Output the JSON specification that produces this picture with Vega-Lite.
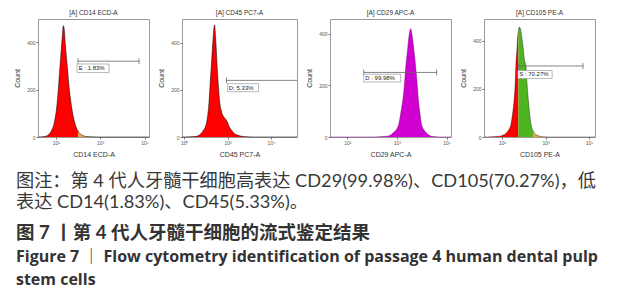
{
  "$schema": "https://vega.github.io/schema/vega-lite/v6.json",
  "padding": {"left": 13, "top": 9, "right": 2, "bottom": 2},
  "background": "white",
  "datasets": {
    "h1": [
      {"lx": 0.2, "c": 0, "s": "n"}, {"lx": 0.4, "c": 1, "s": "n"}, {"lx": 0.55, "c": 3, "s": "n"}, {"lx": 0.7, "c": 12, "s": "n"},
      {"lx": 0.8, "c": 25, "s": "n"}, {"lx": 0.92, "c": 55, "s": "n"}, {"lx": 1.0, "c": 95, "s": "n"}, {"lx": 1.07, "c": 150, "s": "n"},
      {"lx": 1.13, "c": 220, "s": "n"}, {"lx": 1.19, "c": 297, "s": "n"}, {"lx": 1.25, "c": 370, "s": "n"}, {"lx": 1.3, "c": 430, "s": "n"},
      {"lx": 1.34, "c": 470, "s": "n"}, {"lx": 1.38, "c": 455, "s": "n"}, {"lx": 1.44, "c": 380, "s": "n"}, {"lx": 1.52, "c": 297, "s": "n"},
      {"lx": 1.6, "c": 210, "s": "n"}, {"lx": 1.67, "c": 155, "s": "n"}, {"lx": 1.77, "c": 95, "s": "n"}, {"lx": 1.87, "c": 55, "s": "n"},
      {"lx": 1.96, "c": 32, "s": "n"}, {"lx": 2.0, "c": 26, "s": "n"},
      {"lx": 2.0, "c": 26, "s": "p"}, {"lx": 2.05, "c": 18, "s": "p"}, {"lx": 2.15, "c": 10, "s": "p"}, {"lx": 2.27, "c": 4, "s": "p"},
      {"lx": 2.4, "c": 2, "s": "p"}, {"lx": 2.6, "c": 1, "s": "p"}, {"lx": 3.0, "c": 0, "s": "p"}, {"lx": 5.2, "c": 0, "s": "p"}
    ],
    "h2": [
      {"lx": -0.1, "c": 0}, {"lx": 0.3, "c": 1}, {"lx": 0.58, "c": 3}, {"lx": 0.7, "c": 8}, {"lx": 0.81, "c": 18},
      {"lx": 0.9, "c": 30}, {"lx": 0.985, "c": 45}, {"lx": 1.07, "c": 80}, {"lx": 1.15, "c": 154}, {"lx": 1.2, "c": 230},
      {"lx": 1.25, "c": 297}, {"lx": 1.32, "c": 400}, {"lx": 1.4, "c": 475}, {"lx": 1.45, "c": 420}, {"lx": 1.52, "c": 297},
      {"lx": 1.58, "c": 210}, {"lx": 1.63, "c": 154}, {"lx": 1.7, "c": 115}, {"lx": 1.78, "c": 92}, {"lx": 1.85, "c": 82},
      {"lx": 1.92, "c": 75}, {"lx": 2.0, "c": 61}, {"lx": 2.07, "c": 45}, {"lx": 2.15, "c": 33}, {"lx": 2.32, "c": 14},
      {"lx": 2.45, "c": 8}, {"lx": 2.59, "c": 4}, {"lx": 2.89, "c": 1}, {"lx": 3.2, "c": 0}, {"lx": 5.2, "c": 0}
    ],
    "h3": [
      {"lx": 0.3, "c": 0}, {"lx": 2.0, "c": 0}, {"lx": 2.3, "c": 1}, {"lx": 2.59, "c": 3}, {"lx": 2.75, "c": 8},
      {"lx": 2.86, "c": 17}, {"lx": 3.0, "c": 32}, {"lx": 3.07, "c": 48}, {"lx": 3.15, "c": 90}, {"lx": 3.23, "c": 138},
      {"lx": 3.3, "c": 200}, {"lx": 3.35, "c": 266}, {"lx": 3.42, "c": 330}, {"lx": 3.5, "c": 400}, {"lx": 3.55, "c": 419},
      {"lx": 3.6, "c": 400}, {"lx": 3.68, "c": 340}, {"lx": 3.76, "c": 266}, {"lx": 3.82, "c": 200}, {"lx": 3.87, "c": 138},
      {"lx": 3.93, "c": 90}, {"lx": 3.99, "c": 48}, {"lx": 4.08, "c": 28}, {"lx": 4.17, "c": 17}, {"lx": 4.28, "c": 8},
      {"lx": 4.38, "c": 3}, {"lx": 4.55, "c": 1}, {"lx": 4.8, "c": 0}, {"lx": 5.18, "c": 0}
    ],
    "h4": [
      {"lx": 0.17, "c": 0, "s": "n"}, {"lx": 0.5, "c": 1, "s": "n"}, {"lx": 0.906, "c": 3, "s": "n"}, {"lx": 1.05, "c": 8, "s": "n"},
      {"lx": 1.21, "c": 18, "s": "n"}, {"lx": 1.32, "c": 32, "s": "n"}, {"lx": 1.41, "c": 53, "s": "n"}, {"lx": 1.48, "c": 95, "s": "n"},
      {"lx": 1.55, "c": 151, "s": "n"}, {"lx": 1.6, "c": 220, "s": "n"}, {"lx": 1.63, "c": 292, "s": "n"}, {"lx": 1.68, "c": 360, "s": "n"},
      {"lx": 1.72, "c": 420, "s": "n"}, {"lx": 1.75, "c": 440, "s": "n"},
      {"lx": 1.75, "c": 440, "s": "g"}, {"lx": 1.79, "c": 457, "s": "g"}, {"lx": 1.84, "c": 450, "s": "g"}, {"lx": 1.9, "c": 420, "s": "g"},
      {"lx": 1.97, "c": 370, "s": "g"}, {"lx": 2.03, "c": 320, "s": "g"}, {"lx": 2.1, "c": 292, "s": "g"}, {"lx": 2.15, "c": 220, "s": "g"},
      {"lx": 2.21, "c": 151, "s": "g"}, {"lx": 2.27, "c": 95, "s": "g"}, {"lx": 2.33, "c": 53, "s": "g"}, {"lx": 2.42, "c": 26, "s": "g"},
      {"lx": 2.42, "c": 26, "s": "o"}, {"lx": 2.5, "c": 15, "s": "o"}, {"lx": 2.6, "c": 8, "s": "o"}, {"lx": 2.74, "c": 3, "s": "o"},
      {"lx": 2.9, "c": 1, "s": "o"}, {"lx": 3.2, "c": 0, "s": "o"}, {"lx": 5.27, "c": 0, "s": "o"}
    ],
    "cap": [
      {"row": 1, "k": "n", "t": "图注：第 4 代人牙髓干细胞高表达 CD29(99.98%)、CD105(70.27%)，低"},
      {"row": 2, "k": "n", "t": "表达 CD14(1.83%)、CD45(5.33%)。"},
      {"row": 3.45, "k": "b", "t": "图 7 丨第 4 代人牙髓干细胞的流式鉴定结果"},
      {"row": 4.6, "k": "e", "t": "Figure 7 ｜ Flow cytometry identification of passage 4 human dental pulp"},
      {"row": 5.65, "k": "e", "t": "stem cells"}
    ]
  },
  "vconcat": [
    {
      "bounds": "flush",
      "spacing": 33,
      "hconcat": [
        {
          "width": 111, "height": 118,
          "title": "[A] CD14 ECD-A",
          "layer": [
            {
              "data": {"name": "h1"},
              "transform": [{"filter": "datum.s == 'n'"}],
              "mark": {"type": "area", "interpolate": "monotone", "color": "#ff0000"},
              "encoding": {
                "x": {"field": "lx", "type": "quantitative", "scale": {"domain": [0.2, 5.2], "nice": false, "zero": false},
                      "axis": {"values": [1, 2, 3, 4, 5], "labelExpr": "'10' + ['⁰','¹','²','³','⁴','⁵','⁶'][datum.value]", "title": "CD14 ECD-A"}},
                "y": {"field": "c", "type": "quantitative", "stack": null, "scale": {"domain": [0, 498], "nice": false},
                      "axis": {"values": [0, 100, 200, 300, 400], "title": "Count"}}
              }
            },
            {
              "data": {"name": "h1"},
              "transform": [{"filter": "datum.s == 'p'"}],
              "mark": {"type": "area", "interpolate": "monotone", "color": "#f0a040"},
              "encoding": {"x": {"field": "lx", "type": "quantitative"}, "y": {"field": "c", "type": "quantitative", "stack": null}}
            },
            {
              "data": {"name": "h1"},
              "mark": {"type": "line", "interpolate": "monotone", "color": "#000", "strokeWidth": 0.7, "opacity": 0.75},
              "encoding": {"x": {"field": "lx", "type": "quantitative"}, "y": {"field": "c", "type": "quantitative"}}
            },
            {
              "data": {"values": [{"x": 2.0, "xe": 4.75, "xr": 4.75, "y": 320, "lo": 308, "hi": 332, "bx1": 1.96, "bx2": 3.4, "by1": 272, "by2": 308, "tx": 2.03, "ty": 290, "label": "E : 1.83%"}]},
              "layer": [
                {"mark": {"type": "rule", "color": "#666", "strokeWidth": 0.8}, "encoding": {"x": {"field": "x", "type": "quantitative"}, "x2": {"field": "xe"}, "y": {"field": "y", "type": "quantitative"}}},
                {"mark": {"type": "rule", "color": "#666", "strokeWidth": 0.8}, "encoding": {"x": {"field": "x", "type": "quantitative"}, "y": {"field": "lo", "type": "quantitative"}, "y2": {"field": "hi"}}},
                {"mark": {"type": "rule", "color": "#666", "strokeWidth": 0.8}, "encoding": {"x": {"field": "xr", "type": "quantitative"}, "y": {"field": "lo", "type": "quantitative"}, "y2": {"field": "hi"}}},
                {"mark": {"type": "rect", "fill": "white", "stroke": "#999", "strokeWidth": 0.7}, "encoding": {"x": {"field": "bx1", "type": "quantitative"}, "x2": {"field": "bx2"}, "y": {"field": "by1", "type": "quantitative"}, "y2": {"field": "by2"}}},
                {"mark": {"type": "text", "align": "left", "baseline": "middle", "font": "Liberation Sans", "fontSize": 6, "color": "#222"}, "encoding": {"x": {"field": "tx", "type": "quantitative"}, "y": {"field": "ty", "type": "quantitative"}, "text": {"field": "label"}}}
              ]
            }
          ]
        },
        {
          "width": 115, "height": 118,
          "title": "[A] CD45 PC7-A",
          "layer": [
            {
              "data": {"name": "h2"},
              "mark": {"type": "area", "interpolate": "monotone", "color": "#ff0000"},
              "encoding": {
                "x": {"field": "lx", "type": "quantitative", "scale": {"domain": [-0.1, 5.2], "nice": false, "zero": false},
                      "axis": {"values": [0, 1, 2, 3, 4, 5], "labelExpr": "'10' + ['⁰','¹','²','³','⁴','⁵','⁶'][datum.value]", "title": "CD45 PC7-A"}},
                "y": {"field": "c", "type": "quantitative", "stack": null, "scale": {"domain": [0, 500], "nice": false},
                      "axis": {"values": [0, 100, 200, 300, 400], "title": "Count"}}
              }
            },
            {
              "data": {"name": "h2"},
              "mark": {"type": "line", "interpolate": "monotone", "color": "#000", "strokeWidth": 0.7, "opacity": 0.75},
              "encoding": {"x": {"field": "lx", "type": "quantitative"}, "y": {"field": "c", "type": "quantitative"}}
            },
            {
              "data": {"values": [{"x": 1.95, "xe": 5.2, "xr": null, "y": 240, "lo": 228, "hi": 252, "bx1": 2.0, "bx2": 3.43, "by1": 192, "by2": 226, "tx": 2.06, "ty": 209, "label": "D: 5.33%"}]},
              "layer": [
                {"mark": {"type": "rule", "color": "#666", "strokeWidth": 0.8}, "encoding": {"x": {"field": "x", "type": "quantitative"}, "x2": {"field": "xe"}, "y": {"field": "y", "type": "quantitative"}}},
                {"mark": {"type": "rule", "color": "#666", "strokeWidth": 0.8}, "encoding": {"x": {"field": "x", "type": "quantitative"}, "y": {"field": "lo", "type": "quantitative"}, "y2": {"field": "hi"}}},
                {"mark": {"type": "rect", "fill": "white", "stroke": "#999", "strokeWidth": 0.7}, "encoding": {"x": {"field": "bx1", "type": "quantitative"}, "x2": {"field": "bx2"}, "y": {"field": "by1", "type": "quantitative"}, "y2": {"field": "by2"}}},
                {"mark": {"type": "text", "align": "left", "baseline": "middle", "font": "Liberation Sans", "fontSize": 6, "color": "#222"}, "encoding": {"x": {"field": "tx", "type": "quantitative"}, "y": {"field": "ty", "type": "quantitative"}, "text": {"field": "label"}}}
              ]
            }
          ]
        },
        {
          "width": 121, "height": 118,
          "title": "[A] CD29 APC-A",
          "layer": [
            {
              "data": {"name": "h3"},
              "mark": {"type": "area", "interpolate": "monotone", "color": "#d000d0"},
              "encoding": {
                "x": {"field": "lx", "type": "quantitative", "scale": {"domain": [0.3, 5.18], "nice": false, "zero": false},
                      "axis": {"values": [1, 2, 3, 4, 5], "labelExpr": "'10' + ['⁰','¹','²','³','⁴','⁵','⁶'][datum.value]", "title": "CD29 APC-A"}},
                "y": {"field": "c", "type": "quantitative", "stack": null, "scale": {"domain": [0, 457], "nice": false},
                      "axis": {"values": [0, 100, 200, 300, 400], "title": "Count"}}
              }
            },
            {
              "data": {"name": "h3"},
              "mark": {"type": "line", "interpolate": "monotone", "color": "#7a007a", "strokeWidth": 0.6, "opacity": 0.8},
              "encoding": {"x": {"field": "lx", "type": "quantitative"}, "y": {"field": "c", "type": "quantitative"}}
            },
            {
              "data": {"values": [{"x": 1.66, "xe": 4.6, "xr": 4.6, "y": 250, "lo": 239, "hi": 261, "bx1": 1.66, "bx2": 3.15, "by1": 213, "by2": 243, "tx": 1.72, "ty": 228, "label": "D : 99.98%"}]},
              "layer": [
                {"mark": {"type": "rule", "color": "#666", "strokeWidth": 0.8}, "encoding": {"x": {"field": "x", "type": "quantitative"}, "x2": {"field": "xe"}, "y": {"field": "y", "type": "quantitative"}}},
                {"mark": {"type": "rule", "color": "#666", "strokeWidth": 0.8}, "encoding": {"x": {"field": "x", "type": "quantitative"}, "y": {"field": "lo", "type": "quantitative"}, "y2": {"field": "hi"}}},
                {"mark": {"type": "rule", "color": "#666", "strokeWidth": 0.8}, "encoding": {"x": {"field": "xr", "type": "quantitative"}, "y": {"field": "lo", "type": "quantitative"}, "y2": {"field": "hi"}}},
                {"mark": {"type": "rect", "fill": "white", "stroke": "#999", "strokeWidth": 0.7}, "encoding": {"x": {"field": "bx1", "type": "quantitative"}, "x2": {"field": "bx2"}, "y": {"field": "by1", "type": "quantitative"}, "y2": {"field": "by2"}}},
                {"mark": {"type": "text", "align": "left", "baseline": "middle", "font": "Liberation Sans", "fontSize": 6, "color": "#222"}, "encoding": {"x": {"field": "tx", "type": "quantitative"}, "y": {"field": "ty", "type": "quantitative"}, "text": {"field": "label"}}}
              ]
            }
          ]
        },
        {
          "width": 111, "height": 118,
          "title": "[A] CD105 PE-A",
          "layer": [
            {
              "data": {"name": "h4"},
              "transform": [{"filter": "datum.s == 'n'"}],
              "mark": {"type": "area", "interpolate": "monotone", "color": "#ff0000"},
              "encoding": {
                "x": {"field": "lx", "type": "quantitative", "scale": {"domain": [0.17, 5.27], "nice": false, "zero": false},
                      "axis": {"values": [1, 2, 3, 4, 5], "labelExpr": "'10' + ['⁰','¹','²','³','⁴','⁵','⁶'][datum.value]", "title": "CD105 PE-A"}},
                "y": {"field": "c", "type": "quantitative", "stack": null, "scale": {"domain": [0, 490], "nice": false},
                      "axis": {"values": [0, 100, 200, 300, 400], "title": "Count"}}
              }
            },
            {
              "data": {"name": "h4"},
              "transform": [{"filter": "datum.s == 'g'"}],
              "mark": {"type": "area", "interpolate": "monotone", "color": "#4eb520"},
              "encoding": {"x": {"field": "lx", "type": "quantitative"}, "y": {"field": "c", "type": "quantitative", "stack": null}}
            },
            {
              "data": {"name": "h4"},
              "transform": [{"filter": "datum.s == 'o'"}],
              "mark": {"type": "area", "interpolate": "monotone", "color": "#f0a040"},
              "encoding": {"x": {"field": "lx", "type": "quantitative"}, "y": {"field": "c", "type": "quantitative", "stack": null}}
            },
            {
              "data": {"name": "h4"},
              "mark": {"type": "line", "interpolate": "monotone", "color": "#000", "strokeWidth": 0.6, "opacity": 0.6},
              "encoding": {"x": {"field": "lx", "type": "quantitative"}, "y": {"field": "c", "type": "quantitative"}}
            },
            {
              "data": {"values": [{"x": 1.75, "xe": 4.72, "xr": 4.72, "y": 295, "lo": 283, "hi": 307, "bx1": 1.73, "bx2": 3.3, "by1": 243, "by2": 276, "tx": 1.79, "ty": 260, "label": "S : 70.27%"}]},
              "layer": [
                {"mark": {"type": "rule", "color": "#666", "strokeWidth": 0.8}, "encoding": {"x": {"field": "x", "type": "quantitative"}, "x2": {"field": "xe"}, "y": {"field": "y", "type": "quantitative"}}},
                {"mark": {"type": "rule", "color": "#666", "strokeWidth": 0.8}, "encoding": {"x": {"field": "x", "type": "quantitative"}, "y": {"field": "lo", "type": "quantitative"}, "y2": {"field": "hi"}}},
                {"mark": {"type": "rule", "color": "#666", "strokeWidth": 0.8}, "encoding": {"x": {"field": "xr", "type": "quantitative"}, "y": {"field": "lo", "type": "quantitative"}, "y2": {"field": "hi"}}},
                {"mark": {"type": "rect", "fill": "white", "stroke": "#999", "strokeWidth": 0.7}, "encoding": {"x": {"field": "bx1", "type": "quantitative"}, "x2": {"field": "bx2"}, "y": {"field": "by1", "type": "quantitative"}, "y2": {"field": "by2"}}},
                {"mark": {"type": "text", "align": "left", "baseline": "middle", "font": "Liberation Sans", "fontSize": 6, "color": "#222"}, "encoding": {"x": {"field": "tx", "type": "quantitative"}, "y": {"field": "ty", "type": "quantitative"}, "text": {"field": "label"}}}
              ]
            }
          ]
        }
      ]
    },
    {
      "width": 590, "height": 120,
      "view": {"stroke": null},
      "data": {"name": "cap"},
      "encoding": {
        "x": {"datum": 0, "type": "quantitative", "scale": {"domain": [0.036, 1], "nice": false, "zero": false}, "axis": null},
        "y": {"field": "row", "type": "quantitative", "scale": {"domain": [6.1, 0.4], "nice": false, "zero": false}, "axis": null},
        "text": {"field": "t"}
      },
      "layer": [
        {"transform": [{"filter": "datum.k == 'n'"}], "mark": {"type": "text", "align": "left", "baseline": "middle", "font": "Lato, Noto Sans CJK SC", "fontSize": 18.2, "color": "#383838"}},
        {"transform": [{"filter": "datum.k == 'b'"}], "mark": {"type": "text", "align": "left", "baseline": "middle", "font": "Lato, Noto Sans CJK SC", "fontSize": 18.5, "fontWeight": "bold", "color": "#333"}},
        {"transform": [{"filter": "datum.k == 'e'"}], "mark": {"type": "text", "align": "left", "baseline": "middle", "font": "Open Sans, Noto Sans CJK SC", "fontSize": 16, "fontWeight": "bold", "color": "#333"}}
      ]
    }
  ],
  "spacing": 11,
  "config": {
    "view": {"stroke": "#9a9a9a", "strokeWidth": 1},
    "axis": {"grid": false, "domain": false, "labelFont": "Liberation Sans", "labelFontSize": 5, "labelColor": "#555", "tickColor": "#777", "tickSize": 2, "labelPadding": 1, "titleFont": "Liberation Sans", "titleFontSize": 7, "titleFontWeight": "normal", "titleColor": "#333"},
    "axisY": {"titlePadding": 6},
    "axisX": {"titlePadding": 5},
    "title": {"font": "Liberation Sans", "fontSize": 6.5, "fontWeight": "normal", "color": "#333", "offset": 3}
  }
}
